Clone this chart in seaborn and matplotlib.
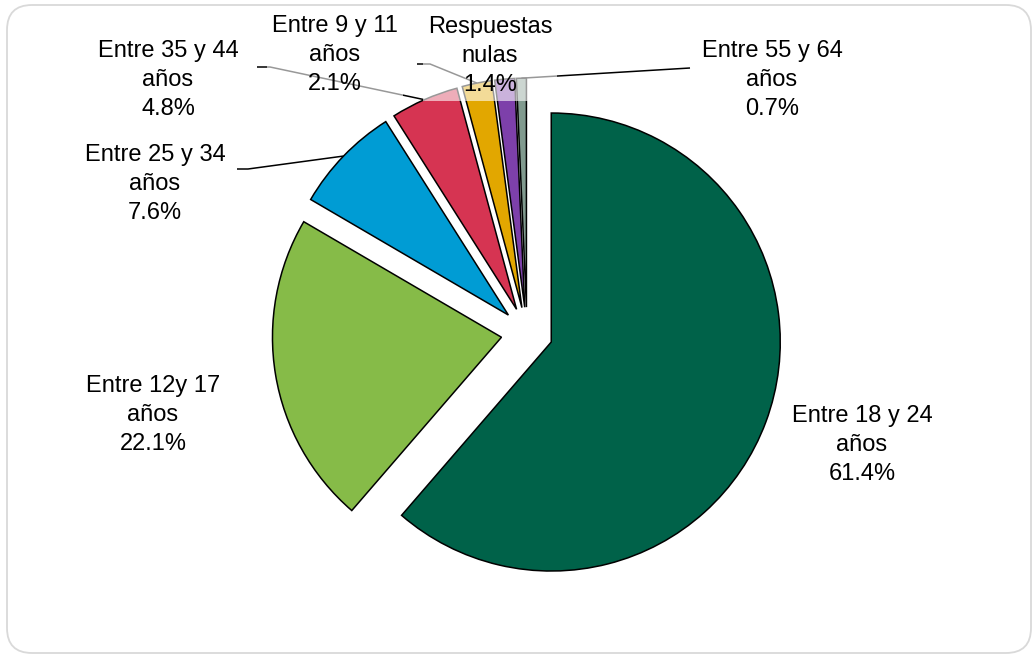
import matplotlib
matplotlib.use("Agg")
import matplotlib.pyplot as plt
import seaborn as sns
import numpy as np
from matplotlib.patches import FancyBboxPatch

# ---------------- data ----------------
categories = ["Entre 18 y 24\naños", "Entre 12y 17\naños", "Entre 25 y 34\naños",
              "Entre 35 y 44\naños", "Entre 9 y 11\naños", "Respuestas\nnulas",
              "Entre 55 y 64\naños"]
values = [61.4, 22.1, 7.6, 4.8, 2.1, 1.4, 0.7]
pct_labels = ["61.4%", "22.1%", "7.6%", "4.8%", "2.1%", "1.4%", "0.7%"]
colors = ["#006249", "#86BB48", "#009CD4", "#D63452", "#E2A700", "#7D40AA", "#809A8E"]

# ---------------- style ----------------
sns.set_theme(style="white")
plt.rcParams['font.family'] = ['Liberation Sans', 'DejaVu Sans']

W, H = 1036, 657
fig = plt.figure(figsize=(W / 100, H / 100), dpi=100)
ax = fig.add_axes([0, 0, 1, 1])

CX, CY, R = 527, 333, 229          # pie centre / radius in pixels (layout)


def px(x, y):
    return ((x - CX) / R, (CY - y) / R)


palette = sns.color_palette(colors)
wedges, _ = ax.pie(values, colors=palette, startangle=90, counterclock=False,
                   explode=[0.113] * len(values),
                   wedgeprops=dict(edgecolor="black", linewidth=1.1))
ax.set_xlim((0 - CX) / R, (W - CX) / R)
ax.set_ylim((CY - H) / R, CY / R)
ax.set_aspect("equal", adjustable="box")
ax.axis("off")

# label centres (pixels)
label_pos = [(862, 445), (153, 415), (155, 184), (168, 80), (335, 55), (490, 56), (772, 80)]
# leader line label-side points (pixels)
leaders = {2: [(237, 169), (248, 169)],
           3: [(257, 67), (270, 67)],
           4: [(417, 64), (430, 64)],
           6: [(690, 68)]}

for i, (cat, pct) in enumerate(zip(categories, pct_labels)):
    x, y = px(*label_pos[i])
    ax.text(x, y, f"{cat}\n{pct}", ha="center", va="center", fontsize=17,
            linespacing=1.4, color="black", zorder=5,
            bbox=dict(boxstyle="square,pad=0.2", fc="white", ec="none", alpha=0.6))

for i, pts in leaders.items():
    w = wedges[i]
    mid = np.deg2rad((w.theta1 + w.theta2) / 2)
    ex = w.center[0] + w.r * np.cos(mid)
    ey = w.center[1] + w.r * np.sin(mid)
    xs = [px(*p)[0] for p in pts] + [ex]
    ys = [px(*p)[1] for p in pts] + [ey]
    ax.plot(xs, ys, color="black", lw=1.1, zorder=3, solid_capstyle="butt")

# card border
card = FancyBboxPatch((0.07, 0.04), 10.24, 6.48,
                      boxstyle="round,pad=0,rounding_size=0.25",
                      transform=fig.dpi_scale_trans, fc="none", ec="#d9d9d9", lw=1.3)
fig.patches.append(card)

fig.savefig("out.png", dpi=100)
